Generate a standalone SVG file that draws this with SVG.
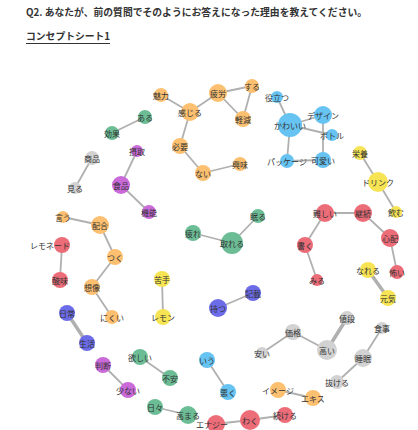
<svg xmlns="http://www.w3.org/2000/svg" width="418" height="430" viewBox="0 0 418 430">
<style>
text{font-family:"Noto Sans CJK JP","Noto Sans",sans-serif;}
.t{font-size:9.8px;font-weight:bold;fill:#333;}
.l{font-size:8px;fill:#333;text-anchor:middle;dominant-baseline:central;}
.e line{stroke:#b0b0b0;stroke-width:1.8;}
.e .k{stroke-width:3.5;}
.o{fill:#fcc070;}
.b{fill:#66c3f2;}
.g{fill:#6cbd95;}
.y{fill:#d2d2d2;}
.p{fill:#c96ad8;}
.r{fill:#ec6c78;}
.w{fill:#f7e455;}
.v{fill:#6c6ce8;}
</style>
<rect width="418" height="430" fill="#fff"/>
<text class="t" x="26" y="16">Q2. あなたが、前の質問でそのようにお答えになった理由を教えてください。</text>
<text class="t" x="26" y="40">コンセプトシート1</text>
<line x1="26" y1="43.5" x2="110" y2="43.5" stroke="#333" stroke-width="1"/>
<g class="e" id="edges">
<line x1="161" y1="95" x2="190" y2="112"/>
<line x1="190" y1="112" x2="218" y2="93"/>
<line x1="218" y1="93" x2="252" y2="86"/>
<line x1="218" y1="93" x2="243" y2="119"/>
<line x1="252" y1="86" x2="243" y2="119"/>
<line x1="190" y1="112" x2="180" y2="146"/>
<line x1="180" y1="146" x2="203" y2="173"/>
<line x1="203" y1="173" x2="240" y2="164"/>
<line x1="277" y1="97" x2="290" y2="125"/>
<line x1="290" y1="125" x2="323" y2="115"/>
<line x1="290" y1="125" x2="332" y2="135"/>
<line x1="290" y1="125" x2="287" y2="161"/>
<line x1="323" y1="115" x2="323" y2="160"/>
<line x1="287" y1="161" x2="323" y2="160"/>
<line x1="145" y1="117" x2="112" y2="133"/>
<line x1="92" y1="158" x2="75" y2="188"/>
<line x1="137" y1="151" x2="121" y2="185"/>
<line x1="121" y1="185" x2="149" y2="212"/>
<line x1="63" y1="217" x2="100" y2="225"/>
<line x1="100" y1="225" x2="115" y2="257"/>
<line x1="115" y1="257" x2="92" y2="287"/>
<line x1="92" y1="287" x2="112" y2="317"/>
<line x1="62" y1="245" x2="60" y2="280"/>
<line x1="162" y1="279" x2="163" y2="317"/>
<line class="k" x1="67" y1="313" x2="87" y2="343"/>
<line x1="218" y1="308" x2="253" y2="293"/>
<line x1="193" y1="233" x2="232" y2="243"/>
<line x1="232" y1="243" x2="258" y2="216"/>
<line x1="325" y1="213" x2="363" y2="213"/>
<line x1="363" y1="213" x2="390" y2="238"/>
<line x1="390" y1="238" x2="397" y2="272"/>
<line x1="325" y1="213" x2="305" y2="245"/>
<line x1="305" y1="245" x2="317" y2="280"/>
<line x1="360" y1="153" x2="378" y2="182"/>
<line x1="378" y1="182" x2="396" y2="212"/>
<line class="k" x1="368" y1="270" x2="388" y2="298"/>
<line x1="262" y1="353" x2="293" y2="332"/>
<line x1="293" y1="332" x2="327" y2="350"/>
<line class="k" x1="327" y1="350" x2="347" y2="318"/>
<line x1="382" y1="328" x2="363" y2="358"/>
<line x1="363" y1="358" x2="337" y2="382"/>
<line x1="278" y1="390" x2="313" y2="398"/>
<line x1="216" y1="424" x2="250" y2="420"/>
<line x1="250" y1="420" x2="285" y2="415"/>
<line x1="207" y1="360" x2="228" y2="392"/>
<line x1="140" y1="357" x2="170" y2="378"/>
<line x1="155" y1="407" x2="188" y2="415"/>
<line x1="103" y1="365" x2="128" y2="390"/>
</g>
<g id="n-miryoku"><circle class="o" cx="161" cy="95" r="7"/><text class="l" x="161" y="95">魅力</text></g>
<g id="n-hirou"><circle class="o" cx="218" cy="93" r="9"/><text class="l" x="218" y="93">疲労</text></g>
<g id="n-suru"><circle class="o" cx="252" cy="86" r="7"/><text class="l" x="252" y="86">する</text></g>
<g id="n-kanjiru"><circle class="o" cx="190" cy="112" r="9"/><text class="l" x="190" y="112">感じる</text></g>
<g id="n-keigen"><circle class="o" cx="243" cy="119" r="8"/><text class="l" x="243" y="119">軽減</text></g>
<g id="n-hitsuyou"><circle class="o" cx="180" cy="146" r="8"/><text class="l" x="180" y="146">必要</text></g>
<g id="n-nai"><circle class="o" cx="203" cy="173" r="8"/><text class="l" x="203" y="173">ない</text></g>
<g id="n-kyoumi"><circle class="o" cx="240" cy="164" r="7"/><text class="l" x="240" y="164">興味</text></g>
<g id="n-yakudatsu"><circle class="b" cx="277" cy="97" r="6"/><text class="l" x="277" y="97">役立つ</text></g>
<g id="n-kawaii"><circle class="b" cx="290" cy="125" r="12"/><text class="l" x="290" y="125">かわいい</text></g>
<g id="n-design"><circle class="b" cx="323" cy="115" r="9"/><text class="l" x="323" y="115">デザイン</text></g>
<g id="n-bottle"><circle class="b" cx="332" cy="135" r="6"/><text class="l" x="332" y="135">ボトル</text></g>
<g id="n-package"><circle class="b" cx="287" cy="161" r="7"/><text class="l" x="287" y="161">パッケージ</text></g>
<g id="n-kawaii2"><circle class="b" cx="323" cy="160" r="8"/><text class="l" x="323" y="160">可愛い</text></g>
<g id="n-aru"><circle class="g" cx="145" cy="117" r="7"/><text class="l" x="145" y="117">ある</text></g>
<g id="n-kouka"><circle class="g" cx="112" cy="133" r="7"/><text class="l" x="112" y="133">効果</text></g>
<g id="n-shouhin"><circle class="y" cx="92" cy="158" r="7"/><text class="l" x="92" y="158">商品</text></g>
<g id="n-miru"><circle class="y" cx="75" cy="188" r="6"/><text class="l" x="75" y="188">見る</text></g>
<g id="n-sesshu"><circle class="p" cx="137" cy="151" r="6"/><text class="l" x="137" y="151">摂取</text></g>
<g id="n-shokuhin"><circle class="p" cx="121" cy="185" r="9"/><text class="l" x="121" y="185">食品</text></g>
<g id="n-kinou"><circle class="p" cx="149" cy="212" r="7"/><text class="l" x="149" y="212">機能</text></g>
<g id="n-iu"><circle class="o" cx="63" cy="217" r="6"/><text class="l" x="63" y="217">言う</text></g>
<g id="n-haigou"><circle class="o" cx="100" cy="225" r="9"/><text class="l" x="100" y="225">配合</text></g>
<g id="n-tsuku"><circle class="o" cx="115" cy="257" r="8"/><text class="l" x="115" y="257">つく</text></g>
<g id="n-souzou"><circle class="o" cx="92" cy="287" r="8"/><text class="l" x="92" y="287">想像</text></g>
<g id="n-nikui"><circle class="o" cx="112" cy="317" r="7"/><text class="l" x="112" y="317">にくい</text></g>
<g id="n-lemonade"><circle class="r" cx="62" cy="245" r="8"/><text class="l" x="50" y="245">レモネード</text></g>
<g id="n-sanmi"><circle class="r" cx="60" cy="280" r="8"/><text class="l" x="60" y="280">酸味</text></g>
<g id="n-nigate"><circle class="w" cx="162" cy="279" r="8"/><text class="l" x="162" y="279">苦手</text></g>
<g id="n-lemon"><circle class="w" cx="163" cy="317" r="8"/><text class="l" x="163" y="317">レモン</text></g>
<g id="n-nichijou"><circle class="v" cx="67" cy="313" r="8"/><text class="l" x="67" y="313">日常</text></g>
<g id="n-seikatsu"><circle class="v" cx="87" cy="343" r="8"/><text class="l" x="87" y="343">生活</text></g>
<g id="n-motsu"><circle class="v" cx="218" cy="308" r="9"/><text class="l" x="218" y="308">持つ</text></g>
<g id="n-kisai"><circle class="v" cx="253" cy="293" r="8"/><text class="l" x="253" y="293">記載</text></g>
<g id="n-tsukare"><circle class="g" cx="193" cy="233" r="8"/><text class="l" x="193" y="233">疲れ</text></g>
<g id="n-toreru"><circle class="g" cx="232" cy="243" r="11"/><text class="l" x="232" y="243">取れる</text></g>
<g id="n-nemuru"><circle class="g" cx="258" cy="216" r="7"/><text class="l" x="258" y="216">眠る</text></g>
<g id="n-muzukashii"><circle class="r" cx="325" cy="213" r="9"/><text class="l" x="325" y="213">難しい</text></g>
<g id="n-keizoku"><circle class="r" cx="363" cy="213" r="9"/><text class="l" x="363" y="213">継続</text></g>
<g id="n-shinpai"><circle class="r" cx="390" cy="238" r="9"/><text class="l" x="390" y="238">心配</text></g>
<g id="n-kowai"><circle class="r" cx="397" cy="272" r="7"/><text class="l" x="397" y="272">怖い</text></g>
<g id="n-kaku"><circle class="r" cx="305" cy="245" r="8"/><text class="l" x="305" y="245">書く</text></g>
<g id="n-miru2"><circle class="r" cx="317" cy="280" r="6"/><text class="l" x="317" y="280">みる</text></g>
<g id="n-eiyou"><circle class="w" cx="360" cy="153" r="7"/><text class="l" x="360" y="153">栄養</text></g>
<g id="n-drink"><circle class="w" cx="378" cy="182" r="10"/><text class="l" x="378" y="182">ドリンク</text></g>
<g id="n-nomu"><circle class="w" cx="396" cy="212" r="6"/><text class="l" x="396" y="212">飲む</text></g>
<g id="n-nareru"><circle class="w" cx="368" cy="270" r="8"/><text class="l" x="368" y="270">なれる</text></g>
<g id="n-genki"><circle class="w" cx="388" cy="298" r="8"/><text class="l" x="388" y="298">元気</text></g>
<g id="n-kakaku"><circle class="y" cx="293" cy="332" r="8"/><text class="l" x="293" y="332">価格</text></g>
<g id="n-yasui"><circle class="y" cx="262" cy="353" r="6"/><text class="l" x="262" y="353">安い</text></g>
<g id="n-takai"><circle class="y" cx="327" cy="350" r="10"/><text class="l" x="327" y="350">高い</text></g>
<g id="n-nedan"><circle class="y" cx="347" cy="318" r="7"/><text class="l" x="347" y="318">値段</text></g>
<g id="n-shokuji"><circle class="y" cx="382" cy="328" r="6"/><text class="l" x="382" y="328">食事</text></g>
<g id="n-suimin"><circle class="y" cx="363" cy="358" r="9"/><text class="l" x="363" y="358">睡眠</text></g>
<g id="n-nukeru"><circle class="y" cx="337" cy="382" r="7"/><text class="l" x="337" y="382">抜ける</text></g>
<g id="n-image"><circle class="o" cx="278" cy="390" r="8"/><text class="l" x="278" y="390">イメージ</text></g>
<g id="n-ekisu"><circle class="o" cx="313" cy="398" r="8"/><text class="l" x="313" y="398">エキス</text></g>
<g id="n-energy"><circle class="r" cx="216" cy="424" r="9"/><text class="l" x="212" y="424">エナジー</text></g>
<g id="n-waku"><circle class="r" cx="250" cy="420" r="10"/><text class="l" x="250" y="420">わく</text></g>
<g id="n-tsuzukeru"><circle class="r" cx="285" cy="415" r="8"/><text class="l" x="285" y="415">続ける</text></g>
<g id="n-iu2"><circle class="b" cx="207" cy="360" r="8"/><text class="l" x="207" y="360">いう</text></g>
<g id="n-waruku"><circle class="b" cx="228" cy="392" r="8"/><text class="l" x="228" y="392">悪く</text></g>
<g id="n-hoshii"><circle class="g" cx="140" cy="357" r="8"/><text class="l" x="140" y="357">欲しい</text></g>
<g id="n-fuan"><circle class="g" cx="170" cy="378" r="8"/><text class="l" x="170" y="378">不安</text></g>
<g id="n-hibi"><circle class="g" cx="155" cy="407" r="8"/><text class="l" x="155" y="407">日々</text></g>
<g id="n-takamaru"><circle class="g" cx="188" cy="415" r="9"/><text class="l" x="188" y="415">高まる</text></g>
<g id="n-handan"><circle class="p" cx="103" cy="365" r="8"/><text class="l" x="103" y="365">判断</text></g>
<g id="n-sukunai"><circle class="p" cx="128" cy="390" r="8"/><text class="l" x="128" y="390">少ない</text></g>
</svg>
